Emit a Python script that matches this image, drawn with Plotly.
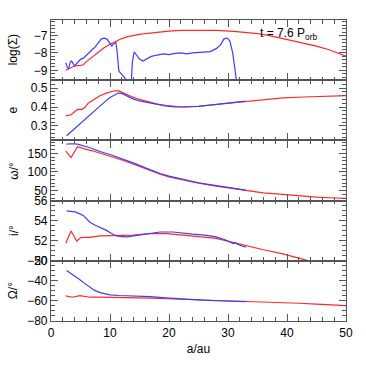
import plotly.graph_objects as go
from plotly.subplots import make_subplots

# Panel 1: log(Sigma)
sig_blue_a = [2.5, 2.8, 3.0, 3.3, 3.5, 3.8, 4.0, 4.5, 5.0, 5.5, 6.0, 6.5, 7.0, 7.5, 8.0, 8.5, 9.0, 9.5,
              10.0, 10.3, 10.7, 11.0, 11.2, 11.5, 12.2, 12.9, 13.3, 13.6, 13.8, 14.1, 14.5, 15.0, 15.6,
              16.2, 17.0, 18.0, 19.0, 20.0, 21.0, 22.0, 23.0, 24.0, 25.0, 26.0, 27.0, 28.0, 28.7, 29.3,
              29.8, 30.3, 30.8, 31.2, 31.5]
sig_blue = [-8.56, -8.85, -8.9, -8.5, -8.47, -8.7, -8.75, -8.55, -8.37, -8.3, -8.12, -8.0, -7.8, -7.65,
            -7.42, -7.2, -7.15, -7.2, -7.45, -7.6, -7.45, -7.4, -7.9, -9.05, -9.3, -9.6, -9.8, -9.7,
            -8.5, -7.93, -8.1, -8.35, -8.47, -8.35, -8.2, -8.12, -8.05, -8.1, -8.02, -8.0, -8.05, -8.0,
            -7.98, -7.95, -7.92, -7.75, -7.55, -7.2, -7.13, -7.3, -8.0, -9.0, -9.8]
sig_red_a = [2.5, 3, 3.5, 4, 5, 5.5, 6, 7, 8, 9, 10, 11, 12, 13, 14, 15, 16, 18, 20, 22, 25, 28, 31,
             33, 35, 37, 39, 41, 43, 45, 47, 49, 50]
sig_red = [-9.0, -8.92, -8.8, -8.75, -8.72, -8.68, -8.5, -8.22, -7.93, -7.7, -7.5, -7.33, -7.17, -7.06,
           -6.98, -6.93, -6.88, -6.8, -6.74, -6.7, -6.69, -6.7, -6.75, -6.8, -6.88, -7.0, -7.15, -7.32,
           -7.46, -7.61, -7.8, -8.05, -8.18]

# Panel 2: e
e_red_a = [2.5, 3.4, 4.0, 4.5, 5.3, 5.8, 6.3, 7.3, 8.3, 9.5, 10.8, 11.5, 12.5, 13.9, 15, 16.8, 18, 19.6,
           21, 22.4, 25, 28, 30, 33, 36, 39.3, 43, 46, 50]
e_red = [0.353, 0.359, 0.375, 0.387, 0.387, 0.40, 0.42, 0.44, 0.46, 0.475, 0.486, 0.485, 0.47, 0.452,
         0.44, 0.425, 0.415, 0.408, 0.402, 0.40, 0.404, 0.413, 0.42, 0.431, 0.44, 0.448, 0.453, 0.456, 0.46]
e_blue_a = [2.65, 3.5, 4.35, 5.3, 6.3, 7.3, 8.3, 9.2, 10, 10.8, 11.4, 12, 13, 13.9, 15, 16.8, 18, 19.6,
            21, 22.4, 25, 28, 30, 33]
e_blue = [0.248, 0.272, 0.295, 0.325, 0.353, 0.38, 0.408, 0.43, 0.45, 0.465, 0.474, 0.472, 0.455, 0.443,
          0.432, 0.42, 0.412, 0.405, 0.401, 0.40, 0.403, 0.412, 0.42, 0.431]

# Panel 3: omega
w_red_a = [2.5, 3.4, 4.5, 5, 6, 7, 8.3, 10, 11.5, 13, 14.5, 16, 17.3, 18.5, 20, 22.4, 25, 28, 30, 33, 36,
           39.3, 42, 45, 48, 50]
w_red = [156, 139, 168, 165, 161, 157, 151, 143, 135, 127, 118, 108, 100, 94, 87, 78, 70, 62, 57, 50, 44,
         39.5, 35.5, 32.5, 30, 29]
w_blue_a = [2.6, 3.5, 4.5, 5.5, 6.5, 7.5, 8.3, 10, 11.5, 13, 14.5, 16, 17.3, 18.5, 20, 22.4, 25, 28, 30, 33]
w_blue = [175, 176, 175, 171, 166, 160, 155, 147, 139, 131, 121, 111, 103, 96, 89, 80, 71, 63.5, 58, 51]

# Panel 4: inclination
i_blue_a = [2.65, 3.3, 4.07, 4.8, 5.5, 6.0, 6.6, 7.5, 8.3, 9.4, 10.2, 11.1, 12.0, 12.9, 14, 15.6, 17,
            18.5, 20.7, 22.4, 24, 26, 28, 29.5, 30.3, 30.6, 30.9, 31.3, 31.6, 32.3, 33]
i_blue = [54.97, 54.93, 54.87, 54.7, 54.5, 54.2, 53.84, 53.55, 53.36, 53.03, 52.75, 52.48, 52.4, 52.39,
          52.48, 52.6, 52.75, 52.87, 52.87, 52.72, 52.65, 52.55, 52.39, 52.1, 51.85, 51.8, 51.72, 51.78,
          51.65, 51.5, 51.36]
i_red_a = [2.5, 3.4, 4.35, 5.0, 5.5, 6.6, 8.3, 11.1, 13.9, 16.8, 19.6, 22.4, 25, 28, 30.8, 33.6, 36, 39.3,
           41.5, 43.3, 46, 50]
i_red = [51.75, 52.97, 51.97, 52.3, 52.33, 52.33, 52.48, 52.48, 52.55, 52.7, 52.7, 52.55, 52.42, 52.23,
         51.84, 51.42, 51.1, 50.69, 50.35, 50.0, 49.6, 49.0]

# Panel 5: Omega
O_blue_a = [2.65, 3.5, 4.2, 4.9, 5.7, 6.6, 7.4, 8.3, 9.2, 10, 11.5, 13.9, 16.8, 19.5, 22.4, 25, 28, 30.5, 33]
O_blue = [-29.7, -33, -36, -39, -42.5, -46.7, -49.5, -51.7, -53, -54, -54.6, -55, -55.7, -57, -58.3, -59,
          -59.8, -60.3, -60.7]
O_red_a = [2.5, 3.6, 4.9, 5.8, 6.6, 8, 10, 13, 16.8, 19.5, 22.4, 26, 30, 33, 36, 39.3, 42, 45, 48, 50]
O_red = [-55, -56.3, -54.7, -55.8, -56.3, -56.2, -56.3, -56.8, -57.3, -57.8, -58.3, -59.3, -60.2, -60.8,
         -61.2, -61.7, -62.3, -63.2, -64, -64.7]

x_ticks = [0, 10, 20, 30, 40, 50]
y_titles = ["log(Σ)", "e", "ω/°", "i/°", "Ω/°"]
y_ranges = [[-9.57, -6.1], [0.223, 0.542], [23, 185], [50, 56], [-80, -20]]
y_tickvals = [[-9, -8, -7], [0.3, 0.4, 0.5], [50, 100, 150], [50, 52, 54, 56], [-80, -60, -40, -20]]
y_ticktext = [["−9", "−8", "−7"], ["0.3", "0.4", "0.5"], ["50", "100", "150"], ["50", "52", "54", "56"],
              ["−80", "−60", "−40", "−20"]]
y_minor = [0.2, 0.02, 10, 0.5, 5]

BLUE = "rgb(60,60,255)"
RED = "rgb(255,40,40)"

fig = make_subplots(rows=5, cols=1, shared_xaxes=True, vertical_spacing=0)

pairs = [(sig_blue_a, sig_blue, sig_red_a, sig_red), (e_blue_a, e_blue, e_red_a, e_red),
         (w_blue_a, w_blue, w_red_a, w_red), (i_blue_a, i_blue, i_red_a, i_red),
         (O_blue_a, O_blue, O_red_a, O_red)]

for r, (ba, bv, ra, rv) in enumerate(pairs, start=1):
    fig.add_trace(go.Scatter(x=ra, y=rv, mode="lines", line=dict(color=RED, width=1.2), showlegend=False),
                  row=r, col=1)
    fig.add_trace(go.Scatter(x=ba, y=bv, mode="lines", line=dict(color=BLUE, width=1.2), showlegend=False),
                  row=r, col=1)

font = dict(family="Liberation Sans, Arial, sans-serif", size=12, color="black")

for r in range(1, 6):
    fig.update_xaxes(range=[0, 50], tickvals=x_ticks, ticks="inside", ticklen=7, tickwidth=1,
                     tickcolor="#555", showline=True, linecolor="#555", linewidth=1.2, mirror="ticks",
                     showgrid=False, zeroline=False,
                     minor=dict(dtick=2, tick0=0, ticks="inside", ticklen=3.5, tickcolor="#555", showgrid=False),
                     tickfont=font, showticklabels=(r == 5), row=r, col=1)
    fig.update_yaxes(range=y_ranges[r - 1], tickvals=y_tickvals[r - 1], ticktext=y_ticktext[r - 1],
                     ticks="inside", ticklen=7, tickwidth=1, tickcolor="#555", showline=True,
                     linecolor="#555", linewidth=1.2, mirror="ticks", showgrid=False, zeroline=False,
                     minor=dict(dtick=y_minor[r - 1], ticks="inside", ticklen=3.5, tickcolor="#555",
                                showgrid=False),
                     tickfont=font, row=r, col=1)

fig.update_xaxes(title=dict(text="a/au", font=font, standoff=6), row=5, col=1)

# y-axis titles as annotations
for r in range(1, 6):
    yaxis = fig.layout["yaxis" if r == 1 else "yaxis%d" % r]
    d = yaxis.domain
    fig.add_annotation(text=y_titles[r - 1], xref="paper", yref="paper", x=-0.128,
                       y=(d[0] + d[1]) / 2, textangle=-90, showarrow=False, font=font,
                       xanchor="center", yanchor="middle")

fig.add_annotation(text="t = 7.6 P<sub>orb</sub>", xref="x", yref="y", x=35, y=-6.93,
                   xanchor="left", yanchor="middle", showarrow=False,
                   font=dict(family="Liberation Sans, Arial, sans-serif", size=12, color="black"))

fig.update_layout(width=366, height=366, margin=dict(l=51, r=20, t=20, b=39),
                  plot_bgcolor="white", paper_bgcolor="white")

# remove the default 8px page margin so the figure sits at the window's top-left corner
fig.write_html("out.html", config={"displayModeBar": False},
               post_script="document.body.style.margin='0';document.body.style.overflow='hidden';")
